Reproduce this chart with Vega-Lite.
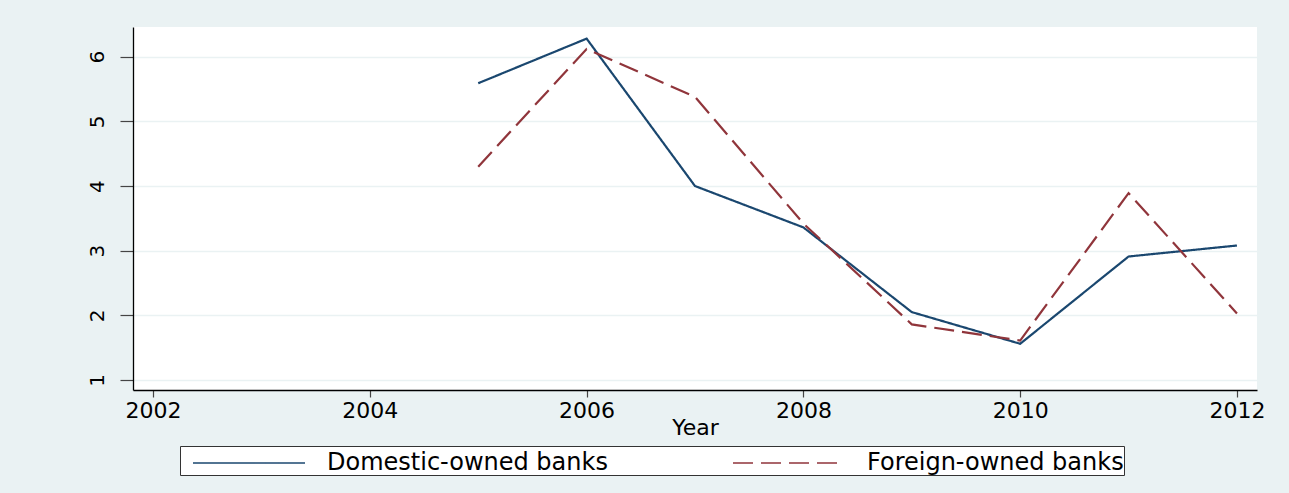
{
  "$schema": "https://vega.github.io/schema/vega-lite/v6.json",
  "autosize": {"type": "none"},
  "width": 1124,
  "height": 363,
  "padding": {"left": 133, "top": 27, "right": 32, "bottom": 103},
  "background": "#eaf2f3",
  "config": {
    "view": {"fill": "white", "stroke": null},
    "font": "DejaVu Sans",
    "axis": {
      "domainColor": "#000000",
      "domainWidth": 1.3,
      "tickColor": "#444444",
      "tickWidth": 1.2,
      "labelFont": "DejaVu Sans",
      "labelColor": "#000000",
      "titleFont": "DejaVu Sans",
      "titleColor": "#000000",
      "titleFontWeight": "normal"
    }
  },
  "data": {
    "values": [
      {"year": 2005, "group": "Domestic-owned banks", "value": 5.59},
      {"year": 2006, "group": "Domestic-owned banks", "value": 6.28},
      {"year": 2007, "group": "Domestic-owned banks", "value": 4.0},
      {"year": 2008, "group": "Domestic-owned banks", "value": 3.36},
      {"year": 2009, "group": "Domestic-owned banks", "value": 2.05},
      {"year": 2010, "group": "Domestic-owned banks", "value": 1.56},
      {"year": 2011, "group": "Domestic-owned banks", "value": 2.91},
      {"year": 2012, "group": "Domestic-owned banks", "value": 3.08},
      {"year": 2005, "group": "Foreign-owned banks", "value": 4.3},
      {"year": 2006, "group": "Foreign-owned banks", "value": 6.12},
      {"year": 2007, "group": "Foreign-owned banks", "value": 5.38},
      {"year": 2008, "group": "Foreign-owned banks", "value": 3.42},
      {"year": 2009, "group": "Foreign-owned banks", "value": 1.86},
      {"year": 2010, "group": "Foreign-owned banks", "value": 1.61},
      {"year": 2011, "group": "Foreign-owned banks", "value": 3.89},
      {"year": 2012, "group": "Foreign-owned banks", "value": 2.03}
    ]
  },
  "mark": {"type": "line", "strokeWidth": 2.2, "clip": true},
  "encoding": {
    "x": {
      "field": "year",
      "type": "quantitative",
      "title": "Year",
      "scale": {"domain": [2001.815, 2012.185], "nice": false, "zero": false},
      "axis": {
        "values": [2002, 2004, 2006, 2008, 2010, 2012],
        "format": "d",
        "grid": false,
        "tickSize": 7,
        "labelFontSize": 22,
        "labelPadding": 3,
        "titleFontSize": 22,
        "titlePadding": -4
      }
    },
    "y": {
      "field": "value",
      "type": "quantitative",
      "title": null,
      "scale": {"domain": [0.845, 6.46], "nice": false, "zero": false},
      "axis": {
        "values": [1, 2, 3, 4, 5, 6],
        "grid": true,
        "gridColor": "#eaf2f3",
        "gridWidth": 1.5,
        "tickSize": 13,
        "labelAngle": -90,
        "labelAlign": "center",
        "labelBaseline": "bottom",
        "labelFontSize": 20,
        "labelPadding": 13
      }
    },
    "color": {
      "field": "group",
      "type": "nominal",
      "scale": {"domain": ["Domestic-owned banks", "Foreign-owned banks"], "range": ["#1a476f", "#90353b"]},
      "legend": {
        "title": null,
        "orient": "none",
        "legendX": 47,
        "legendY": 419,
        "direction": "horizontal",
        "columns": 2,
        "gridAlign": "all",
        "columnPadding": 112,
        "padding": 0,
        "symbolOffset": 52,
        "strokeColor": "#333333",
        "fillColor": "white",
        "symbolType": "M-3.5,0H3.5",
        "symbolSize": 1024,
        "symbolStrokeWidth": 1.4,
        "labelFontSize": 24,
        "labelFont": "DejaVu Sans",
        "labelColor": "#000000",
        "labelOffset": 61,
        "labelLimit": 400
      }
    },
    "strokeDash": {
      "field": "group",
      "type": "nominal",
      "scale": {"domain": ["Domestic-owned banks", "Foreign-owned banks"], "range": [[1, 0], [20, 8]]},
      "legend": null
    }
  }
}
